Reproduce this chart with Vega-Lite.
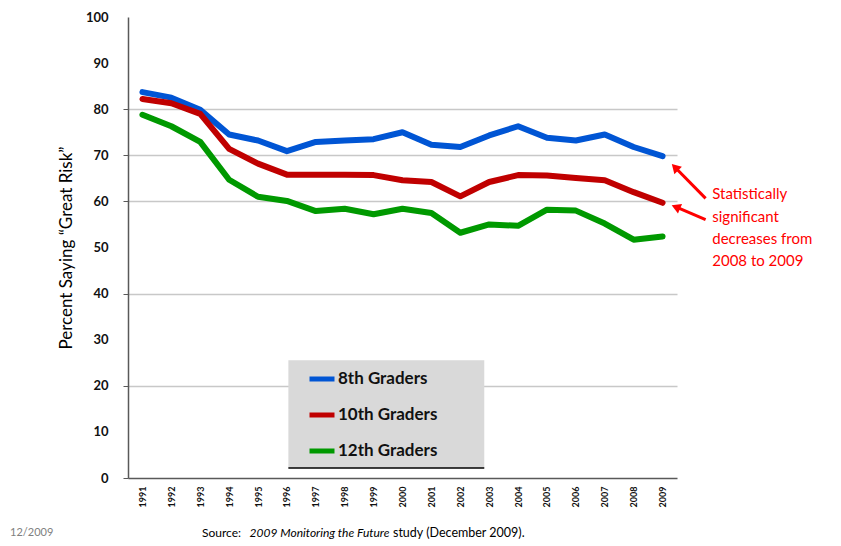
{
  "$schema": "https://vega.github.io/schema/vega-lite/v6.json",
  "width": 549,
  "height": 461,
  "autosize": "none",
  "padding": {"left": 128, "top": 17, "right": 164, "bottom": 68},
  "background": "white",
  "config": {"view": {"stroke": null}, "font": "Lato", "axis": {"labelOverlap": false}},
  "layer": [
    {
      "data": {"values": [
        {"year": 1991, "grade": "8th Graders", "pct": 83.7},
        {"year": 1992, "grade": "8th Graders", "pct": 82.5},
        {"year": 1993, "grade": "8th Graders", "pct": 79.9},
        {"year": 1994, "grade": "8th Graders", "pct": 74.5},
        {"year": 1995, "grade": "8th Graders", "pct": 73.2},
        {"year": 1996, "grade": "8th Graders", "pct": 70.9},
        {"year": 1997, "grade": "8th Graders", "pct": 72.9},
        {"year": 1998, "grade": "8th Graders", "pct": 73.2},
        {"year": 1999, "grade": "8th Graders", "pct": 73.5},
        {"year": 2000, "grade": "8th Graders", "pct": 75.0},
        {"year": 2001, "grade": "8th Graders", "pct": 72.3},
        {"year": 2002, "grade": "8th Graders", "pct": 71.8},
        {"year": 2003, "grade": "8th Graders", "pct": 74.3},
        {"year": 2004, "grade": "8th Graders", "pct": 76.3},
        {"year": 2005, "grade": "8th Graders", "pct": 73.8},
        {"year": 2006, "grade": "8th Graders", "pct": 73.2},
        {"year": 2007, "grade": "8th Graders", "pct": 74.5},
        {"year": 2008, "grade": "8th Graders", "pct": 71.8},
        {"year": 2009, "grade": "8th Graders", "pct": 69.8},
        {"year": 1991, "grade": "10th Graders", "pct": 82.2},
        {"year": 1992, "grade": "10th Graders", "pct": 81.3},
        {"year": 1993, "grade": "10th Graders", "pct": 79.0},
        {"year": 1994, "grade": "10th Graders", "pct": 71.4},
        {"year": 1995, "grade": "10th Graders", "pct": 68.2},
        {"year": 1996, "grade": "10th Graders", "pct": 65.8},
        {"year": 1997, "grade": "10th Graders", "pct": 65.8},
        {"year": 1998, "grade": "10th Graders", "pct": 65.8},
        {"year": 1999, "grade": "10th Graders", "pct": 65.7},
        {"year": 2000, "grade": "10th Graders", "pct": 64.6},
        {"year": 2001, "grade": "10th Graders", "pct": 64.2},
        {"year": 2002, "grade": "10th Graders", "pct": 61.1},
        {"year": 2003, "grade": "10th Graders", "pct": 64.2},
        {"year": 2004, "grade": "10th Graders", "pct": 65.7},
        {"year": 2005, "grade": "10th Graders", "pct": 65.6},
        {"year": 2006, "grade": "10th Graders", "pct": 65.1},
        {"year": 2007, "grade": "10th Graders", "pct": 64.6},
        {"year": 2008, "grade": "10th Graders", "pct": 62.0},
        {"year": 2009, "grade": "10th Graders", "pct": 59.7},
        {"year": 1991, "grade": "12th Graders", "pct": 78.8},
        {"year": 1992, "grade": "12th Graders", "pct": 76.3},
        {"year": 1993, "grade": "12th Graders", "pct": 72.9},
        {"year": 1994, "grade": "12th Graders", "pct": 64.7},
        {"year": 1995, "grade": "12th Graders", "pct": 61.0},
        {"year": 1996, "grade": "12th Graders", "pct": 60.1},
        {"year": 1997, "grade": "12th Graders", "pct": 57.9},
        {"year": 1998, "grade": "12th Graders", "pct": 58.4},
        {"year": 1999, "grade": "12th Graders", "pct": 57.2},
        {"year": 2000, "grade": "12th Graders", "pct": 58.4},
        {"year": 2001, "grade": "12th Graders", "pct": 57.5},
        {"year": 2002, "grade": "12th Graders", "pct": 53.2},
        {"year": 2003, "grade": "12th Graders", "pct": 55.0},
        {"year": 2004, "grade": "12th Graders", "pct": 54.7},
        {"year": 2005, "grade": "12th Graders", "pct": 58.2},
        {"year": 2006, "grade": "12th Graders", "pct": 58.0},
        {"year": 2007, "grade": "12th Graders", "pct": 55.2},
        {"year": 2008, "grade": "12th Graders", "pct": 51.7},
        {"year": 2009, "grade": "12th Graders", "pct": 52.4}
      ]},
      "mark": {"type": "line", "strokeWidth": 6, "strokeCap": "round", "strokeJoin": "round"},
      "encoding": {
        "x": {
          "field": "year", "type": "quantitative",
          "scale": {"domain": [1990.5, 2009.5], "nice": false, "zero": false},
          "axis": {
            "values": [1991, 1992, 1993, 1994, 1995, 1996, 1997, 1998, 1999, 2000, 2001, 2002, 2003, 2004, 2005, 2006, 2007, 2008, 2009],
            "tickCount": 40,
            "format": "d", "labelAngle": 270, "labelFontSize": 9, "labelFontWeight": "bold", "labelColor": "#111", "labelOverlap": false, "labelFlush": false,
            "ticks": false, "grid": false, "title": null, "domainColor": "#595959", "domainWidth": 1.5, "labelPadding": 8
          }
        },
        "y": {
          "field": "pct", "type": "quantitative",
          "scale": {"domain": [0, 100], "nice": false},
          "axis": {
            "values": [0, 10, 20, 30, 40, 50, 60, 70, 80, 90, 100],
            "tickCount": 20,
            "title": "Percent Saying “Great Risk”", "titleFontSize": 17, "titleFontWeight": "normal", "titleColor": "#000", "titlePadding": 10,
            "labelFontSize": 13, "labelFontWeight": "bold", "labelColor": "#111", "tickSize": 5, "labelPadding": 15, "labelOverlap": false, "labelFlush": false,
            "domainColor": "#595959", "domainWidth": 1.5,
            "grid": true, "gridWidth": 1.5,
            "gridColor": {"condition": {"test": "indexof([20, 40, 60, 70, 80], datum.value) >= 0", "value": "#c8c8c8"}, "value": "transparent"},
            "tickColor": {"condition": {"test": "indexof([0, 20, 40, 60, 70, 80], datum.value) >= 0", "value": "#595959"}, "value": "transparent"}
          }
        },
        "color": {
          "field": "grade", "type": "nominal",
          "sort": ["8th Graders", "10th Graders", "12th Graders"],
          "scale": {"domain": ["8th Graders", "10th Graders", "12th Graders"], "range": ["#0055D4", "#C00000", "#009900"]},
          "legend": {
            "title": null, "orient": "none", "legendX": 179, "legendY": 347,
            "symbolType": "stroke", "symbolSize": 625, "symbolStrokeWidth": 5,
            "labelFontSize": 17, "labelFontWeight": "bold", "labelColor": "#111", "labelOffset": 1, "rowPadding": 11, "padding": 0
          }
        }
      }
    },
    {
      "data": {"values": [{}]},
      "mark": {"type": "rect", "color": "#d9d9d9"},
      "encoding": {
        "x": {"datum": 1996.05, "type": "quantitative"},
        "x2": {"datum": 2002.83},
        "y": {"datum": 2.17, "type": "quantitative"},
        "y2": {"datum": 25.56}
      }
    },
    {
      "data": {"values": [{}]},
      "mark": {"type": "rule", "color": "#000", "strokeWidth": 1.5},
      "encoding": {
        "x": {"datum": 1996.05, "type": "quantitative"},
        "x2": {"datum": 2002.83},
        "y": {"datum": 2.17, "type": "quantitative"}
      }
    },
    {
      "data": {"values": [{}]},
      "mark": {"type": "rule", "color": "#FF0000", "strokeWidth": 3},
      "encoding": {
        "x": {"datum": 2010.49, "type": "quantitative"},
        "x2": {"datum": 2009.43},
        "y": {"datum": 60.66, "type": "quantitative"},
        "y2": {"datum": 67.4}
      }
    },
    {
      "data": {"values": [{}]},
      "mark": {"type": "rule", "color": "#FF0000", "strokeWidth": 3},
      "encoding": {
        "x": {"datum": 2010.49, "type": "quantitative"},
        "x2": {"datum": 2009.46},
        "y": {"datum": 56.04, "type": "quantitative"},
        "y2": {"datum": 58.8}
      }
    },
    {
      "data": {"values": [{}]},
      "mark": {"type": "point", "shape": "triangle-up", "filled": true, "color": "#FF0000", "opacity": 1, "size": 110, "angle": 315.6},
      "encoding": {
        "x": {"datum": 2009.43, "type": "quantitative"},
        "y": {"datum": 67.4, "type": "quantitative"}
      }
    },
    {
      "data": {"values": [{}]},
      "mark": {"type": "point", "shape": "triangle-up", "filled": true, "color": "#FF0000", "opacity": 1, "size": 110, "angle": 293.2},
      "encoding": {
        "x": {"datum": 2009.46, "type": "quantitative"},
        "y": {"datum": 58.8, "type": "quantitative"}
      }
    },
    {
      "data": {"values": [{}]},
      "mark": {"type": "text", "text": "Statistically\nsignificant\ndecreases from\n2008 to 2009", "lineBreak": "\n", "lineHeight": 22.3, "align": "left", "baseline": "middle", "fontSize": 15, "fontWeight": "normal", "color": "#FF0000"},
      "encoding": {
        "x": {"datum": 2010.72, "type": "quantitative"},
        "y": {"datum": 61.53, "type": "quantitative"}
      }
    },
    {
      "data": {"values": [{}]},
      "mark": {"type": "text", "text": "12/2009", "align": "left", "baseline": "middle", "fontSize": 11, "fontWeight": "normal", "color": "#808080"},
      "encoding": {
        "x": {"datum": 1986.42, "type": "quantitative"},
        "y": {"datum": -11.9, "type": "quantitative"}
      }
    },
    {
      "data": {"values": [{}]},
      "mark": {"type": "text", "text": "Source:", "align": "left", "baseline": "middle", "fontSize": 12, "fontWeight": "normal", "color": "#000"},
      "encoding": {
        "x": {"datum": 1993.06, "type": "quantitative"},
        "y": {"datum": -11.9, "type": "quantitative"}
      }
    },
    {
      "data": {"values": [{}]},
      "mark": {"type": "text", "text": "2009 Monitoring the Future", "align": "right", "baseline": "middle", "fontSize": 12, "fontWeight": "normal", "fontStyle": "italic", "color": "#000"},
      "encoding": {
        "x": {"datum": 1999.55, "type": "quantitative"},
        "y": {"datum": -11.9, "type": "quantitative"}
      }
    },
    {
      "data": {"values": [{}]},
      "mark": {"type": "text", "text": "study (December 2009).", "align": "left", "baseline": "middle", "fontSize": 12.5, "fontWeight": "normal", "color": "#000"},
      "encoding": {
        "x": {"datum": 1999.67, "type": "quantitative"},
        "y": {"datum": -11.9, "type": "quantitative"}
      }
    }
  ]
}
